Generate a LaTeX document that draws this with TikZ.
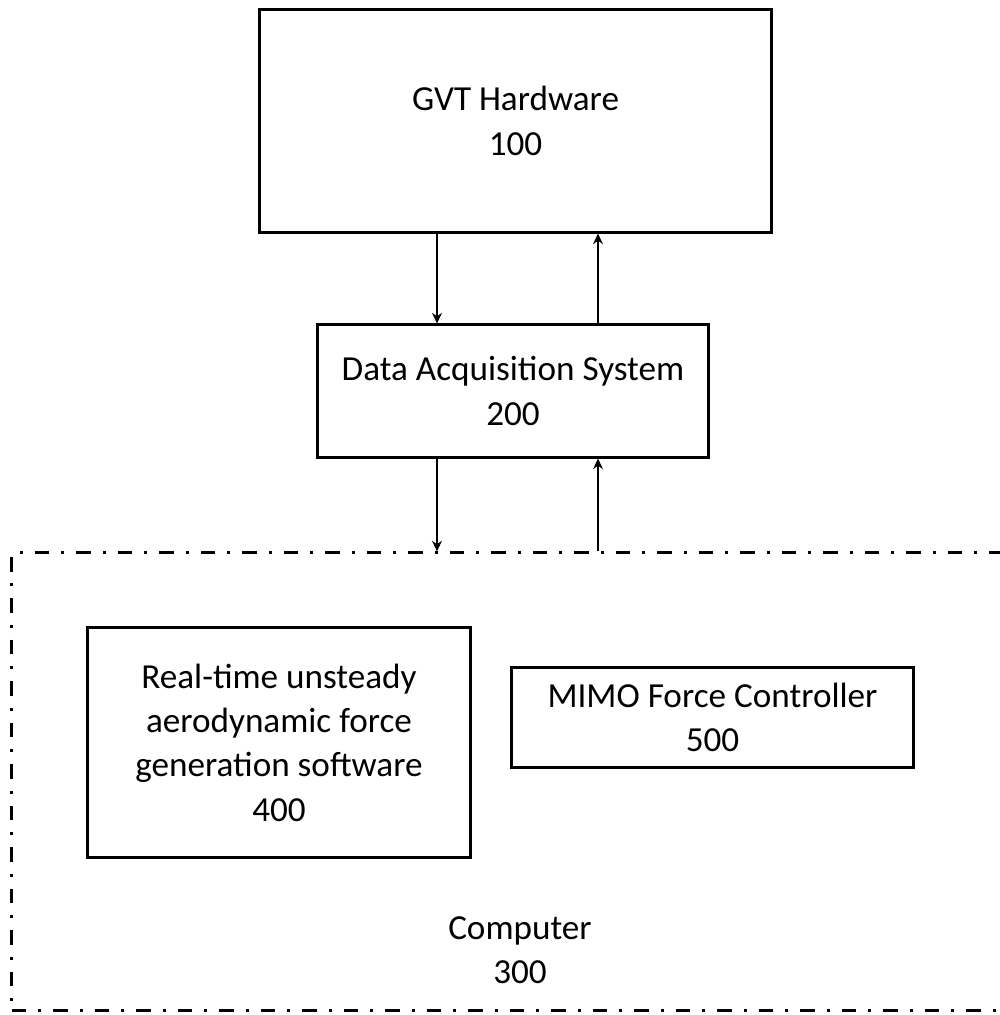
\documentclass[tikz,border=0pt]{standalone}
\usepackage{fontspec}
\setmainfont{Carlito}
\usetikzlibrary{arrows.meta}

\begin{document}
\begin{tikzpicture}[x=0.01cm,y=-0.01cm,
		box/.style={draw,line width=0.85pt,inner sep=0pt,align=center,
			font=\fontsize{10}{12.6}\selectfont},
		link/.style={line width=0.55pt,-{Stealth[length=3pt,width=2.8pt]}},
		dashdot/.style={line width=0.85pt,dash pattern=on 4.2pt off 3.4pt on 0.8pt off 3.4pt}]
			\useasboundingbox (0,0) rectangle (999,1015);
			\foreach \n/\x/\y/\w/\h/\t in
			{gvt/515.5/121/5.11/2.22/{GVT Hardware\\100},
			 daq/513/391/3.90/1.32/{Data Acquisition System\\200},
			 rtsoft/279/742.5/3.82/2.29/{Real-time unsteady\\aerodynamic force\\generation software\\400},
			 mimo/712.5/717.5/4.01/0.99/{MIMO Force Controller\\500}}{
				\node[box,minimum width=\w cm,minimum height=\h cm] (\n) at (\x,\y) {\t};
			}
			
			% computer frame, runs off the right edge
			\node[dashdot,draw,minimum width=9.93cm,minimum height=4.57cm] (computer) at (508.5,781.5) {};
			\node[align=center,font=\fontsize{10}{12.6}\selectfont] (computerlabel) at (520,950) {Computer\\300};
			
			\coordinate (down) at (437,0);
			\coordinate (up) at (598,0);
			\foreach \a/\b in {gvt/daq, daq/computer}{
				\draw[link] (\a.south -| down) -- (\b.north -| down);
				\draw[link] (\b.north -| up) -- (\a.south -| up);
			}
		\end{tikzpicture}
\end{document}
